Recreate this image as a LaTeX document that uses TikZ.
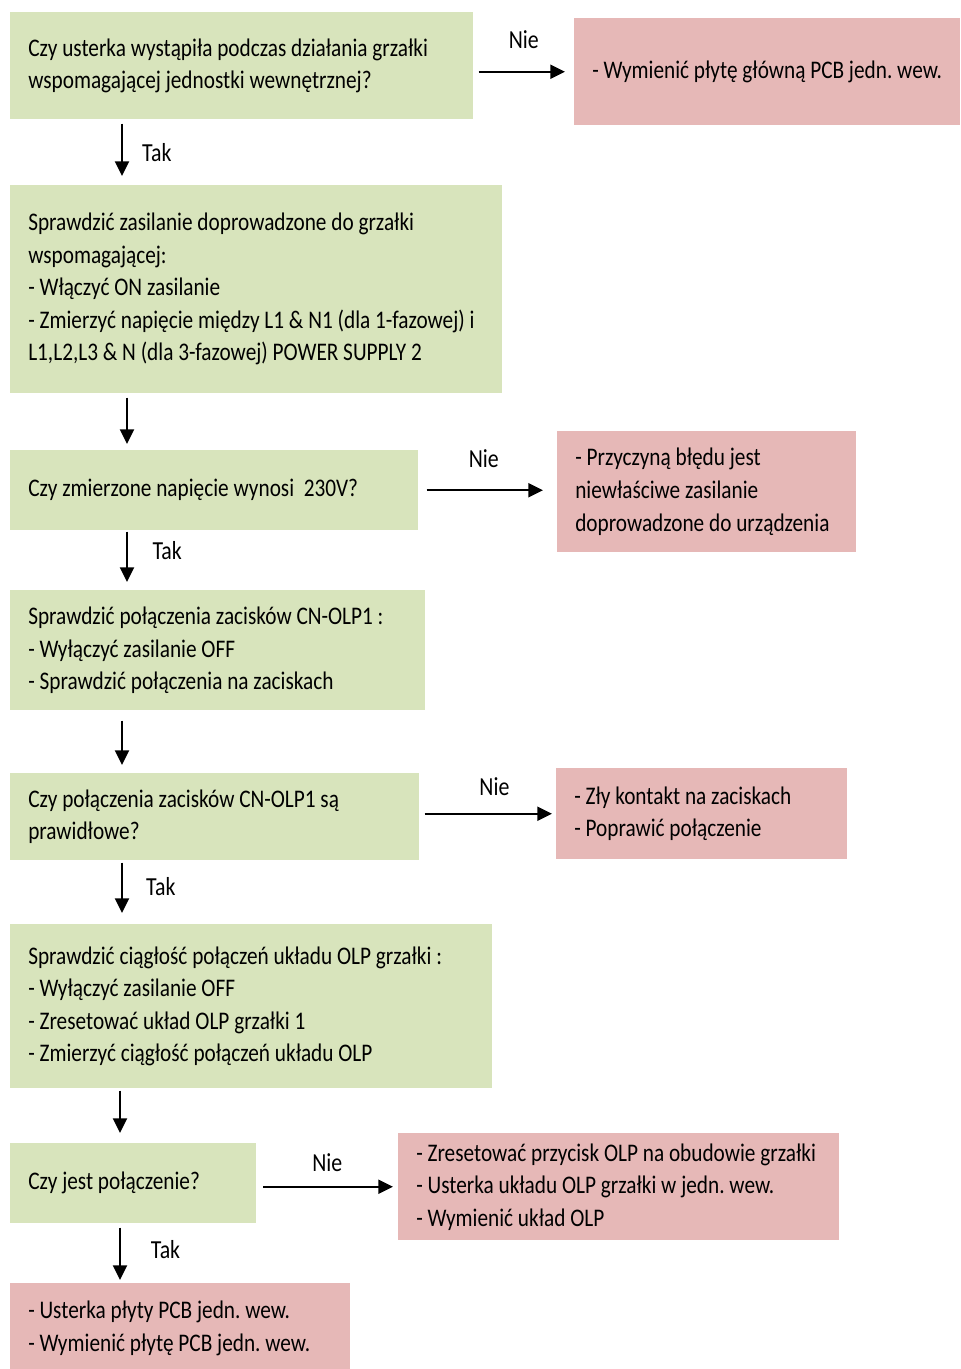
\documentclass[tikz,border=0pt]{standalone}
\usepackage{fontspec}
\setmainfont{Carlito}[FakeStretch=0.84]
\usepackage{xcolor}
\usetikzlibrary{arrows.meta}
\definecolor{chkgreen}{HTML}{D8E4BC}
\definecolor{fixpink}{HTML}{E6B8B7}
\frenchspacing

\begin{document}
\begin{tikzpicture}[x=0.75pt,y=-0.75pt,
    box/.style={rectangle, anchor=north west, inner xsep=13.5pt, inner ysep=0pt,
      align=left, font=\fontsize{19}{24.4}\selectfont,
      execute at begin node={\spaceskip=0pt \xspaceskip=0pt}},
    check/.style={box, fill=chkgreen},
    fix/.style={box, fill=fixpink},
    arr/.style={line width=1.6pt, -{Triangle[length=11pt,width=10.5pt]}},
    lbl/.style={font=\fontsize{19.5}{22}\selectfont}]
    \useasboundingbox (0,0) rectangle (960,1369);
    % questions and checks (green), actions (pink)
    \node[check, text width=320.25pt, minimum height=80.25pt] (q1) at (10,12)
        {Czy usterka wystąpiła podczas działania grzałki\\wspomagającej jednostki wewnętrznej?};
    \node[fix, text width=262.5pt, minimum height=80.25pt] (fix1) at (574,18)
        {- Wymienić płytę główną PCB jedn. wew.};
    \node[check, text width=342pt, minimum height=156pt] (chk2) at (10,185)
        {Sprawdzić zasilanie doprowadzone do grzałki\\wspomagającej:\\- Włączyć ON zasilanie\\- Zmierzyć napięcie między L1 \& N1 (dla 1-fazowej) i\\L1,L2,L3 \& N (dla 3-fazowej) POWER SUPPLY 2};
    \node[check, text width=279pt, minimum height=60pt] (q2) at (10,450)
        {Czy zmierzone napięcie wynosi\ \ 230V?};
    \node[fix, text width=197.25pt, minimum height=90.75pt] (fix2) at (557,431)
        {- Przyczyną błędu jest\\niewłaściwe zasilanie\\doprowadzone do urządzenia};
    \node[check, text width=284.25pt, minimum height=90pt] (chk3) at (10,590)
        {Sprawdzić połączenia zacisków CN-OLP1 :\\- Wyłączyć zasilanie OFF\\- Sprawdzić połączenia na zaciskach};
    \node[check, text width=279.75pt, minimum height=65.25pt] (q3) at (10,773)
        {Czy połączenia zacisków CN-OLP1 są\\prawidłowe?};
    \node[fix, text width=191.25pt, minimum height=68.25pt] (fix3) at (556,768)
        {- Zły kontakt na zaciskach\\- Poprawić połączenie};
    \node[check, text width=334.5pt, minimum height=123pt] (chk4) at (10,924)
        {Sprawdzić ciągłość połączeń układu OLP grzałki :\\- Wyłączyć zasilanie OFF\\- Zresetować układ OLP grzałki 1\\- Zmierzyć ciągłość połączeń układu OLP};
    \node[check, text width=157.5pt, minimum height=60pt] (q4) at (10,1143)
        {Czy jest połączenie?};
    \node[fix, text width=303.75pt, minimum height=80.25pt] (fix4) at (398,1133)
        {- Zresetować przycisk OLP na obudowie grzałki\\- Usterka układu OLP grzałki w jedn. wew.\\- Wymienić układ OLP};
    \node[fix, text width=228pt, minimum height=67.5pt] (fix5) at (10,1283)
        {- Usterka płyty PCB jedn. wew.\\- Wymienić płytę PCB jedn. wew.};

    % Nie
    \draw[arr, shorten <=3.75pt, shorten >=6.75pt] (q1.east |- fix1.west) -- (fix1.west)
        node[lbl, midway, above=13.5pt] {Nie};
    \draw[arr, shorten <=6pt, shorten >=10.5pt] (q2.east) -- (q2.east -| fix2.west)
        node[lbl, midway, above=13pt, xshift=-3pt] {Nie};
    \draw[arr, shorten <=3.75pt, shorten >=3pt] (q3.east |- fix3.west) -- (fix3.west)
        node[lbl, midway, above=9.5pt, xshift=5pt] {Nie};
    \draw[arr, shorten <=5pt, shorten >=3.75pt] (q4.east |- fix4.west) -- (fix4.west)
        node[lbl, midway, above=7pt] {Nie};

    % Tak
    \draw[arr, shorten <=3pt, shorten >=6.75pt] ([xshift=84pt]q1.south west) -- ([xshift=84pt]chk2.north west)
        node[lbl, midway, right=11pt] {Tak};
    \draw[arr, shorten <=3pt, shorten >=4.5pt] ([xshift=87.75pt]chk2.south west) -- ([xshift=87.75pt]q2.north west);
    \draw[arr, shorten <=0.75pt, shorten >=6pt] ([xshift=87.75pt]q2.south west) -- ([xshift=87.75pt]chk3.north west)
        node[lbl, midway, right=15pt, yshift=7.5pt] {Tak};
    \draw[arr, shorten <=7.5pt, shorten >=6pt] ([xshift=84pt]chk3.south west) -- ([xshift=84pt]q3.north west);
    \draw[arr, shorten <=1.5pt, shorten >=8.25pt] ([xshift=84pt]q3.south west) -- ([xshift=84pt]chk4.north west)
        node[lbl, midway, right=14pt, yshift=4pt] {Tak};
    \draw[arr, shorten <=1.5pt, shorten >=7.5pt] ([xshift=82.5pt]chk4.south west) -- ([xshift=82.5pt]q4.north west);
    \draw[arr, shorten <=3pt, shorten >=2.25pt] ([xshift=82.5pt]q4.south west) -- ([xshift=82.5pt]fix5.north west)
        node[lbl, midway, right=19pt, yshift=3pt] {Tak};
\end{tikzpicture}
\end{document}
